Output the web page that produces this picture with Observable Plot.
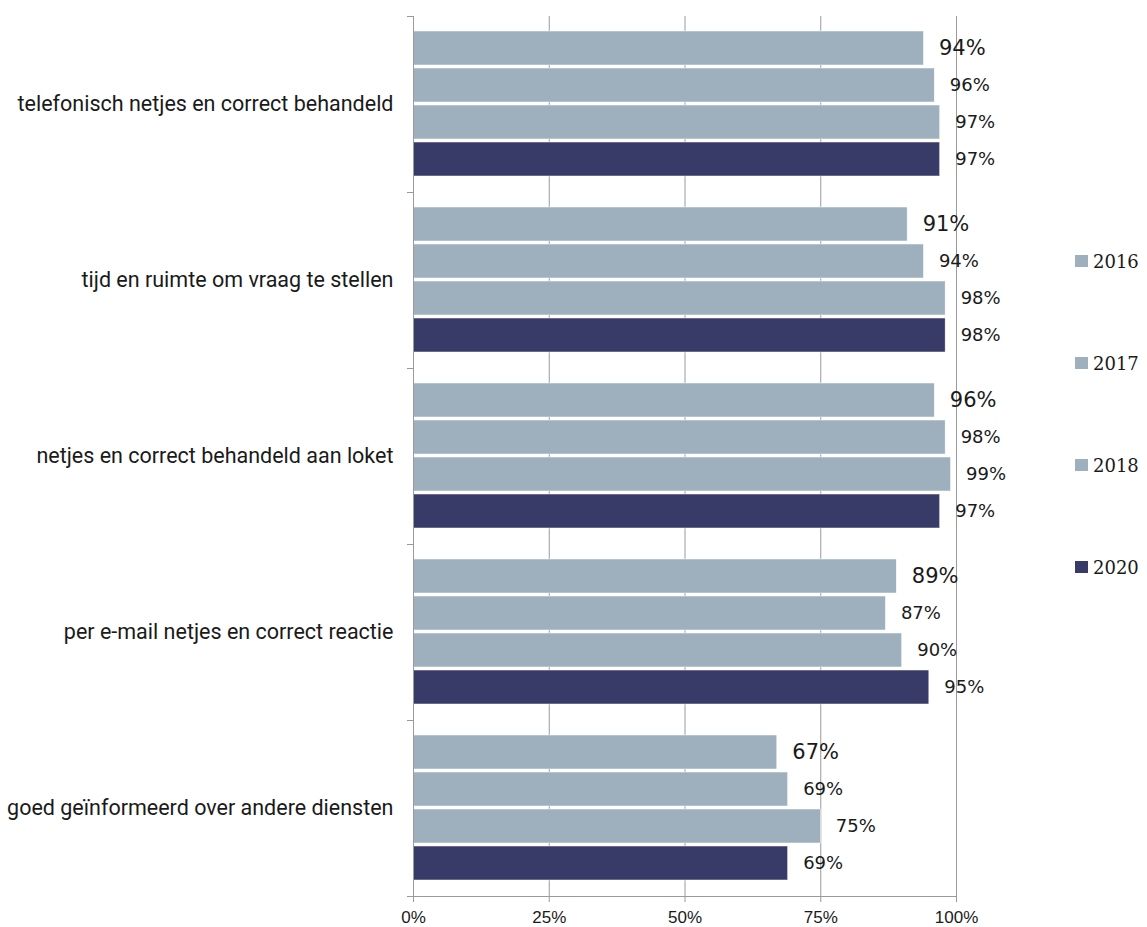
<!DOCTYPE html>
<html><head><meta charset="utf-8">
<script src="https://cdn.jsdelivr.net/npm/d3@7"></script>
<script src="https://cdn.jsdelivr.net/npm/@observablehq/plot@0.6"></script>
<style>
body{margin:0;background:#fff;}
#wrap{position:relative;width:1147px;height:927px;overflow:hidden;}
#legend{position:absolute;left:1075px;top:251px;font-family:"DejaVu Serif";font-size:18px;color:#1a1a1a;}
.item{position:absolute;left:0;display:flex;align-items:center;height:20px;white-space:nowrap;}
.sw{width:13px;height:12px;margin-right:5px;}
</style></head><body>
<div id="wrap"><div id="chart"></div><div id="legend"></div></div>
<script>
const categories = [
  "telefonisch netjes en correct behandeld",
  "tijd en ruimte om vraag te stellen",
  "netjes en correct behandeld aan loket",
  "per e-mail netjes en correct reactie",
  "goed geïnformeerd over andere diensten"
];
const years = ["2016", "2017", "2018", "2020"];
const values2016 = [94, 91, 96, 89, 67];
const values2017 = [96, 94, 98, 87, 69];
const values2018 = [97, 98, 99, 90, 75];
const values2020 = [97, 98, 97, 95, 69];
const yearColors = ["#9EB0BD", "#9EB0BD", "#9EB0BD", "#383A67"];
const xTicks = [0, 25, 50, 75, 100];

const series = [values2016, values2017, values2018, values2020];
const data = [];
categories.forEach((cat, i) => {
  years.forEach((year, j) => data.push({cat, year, value: series[j][i]}));
});

const W = 1147, H = 927, mL = 413, mR = 191, mT = 16, mB = 31;
const plotW = W - mL - mR;
const axisGray = "#9a9a9a";
const labelOpts = {
  fy: "cat", y: "year", x: "value", text: d => d.value + "%",
  dx: 15, textAnchor: "start", fontFamily: "DejaVu Sans", fill: "#1a1a1a"
};

const chart = Plot.plot({
  width: W, height: H,
  marginLeft: mL, marginRight: mR, marginTop: mT, marginBottom: mB,
  style: {fontFamily: "Roboto", fontSize: "17px", color: "#1a1a1a", background: "white"},
  x: {domain: [0, 100], axis: null},
  y: {domain: years, axis: null, paddingInner: 0.08, paddingOuter: 0.37},
  fy: {domain: categories, padding: 0, axis: null},
  color: {domain: years, range: yearColors},
  marks: [
    Plot.gridX(xTicks.slice(1), {stroke: axisGray, strokeOpacity: 1}),
    Plot.barX(data, {fy: "cat", y: "year", x: "value", fill: "year", stroke: "white", strokeWidth: 0.5}),
    Plot.text(data.filter(d => d.year === years[0]), {...labelOpts, fontSize: 21}),
    Plot.text(data.filter(d => d.year !== years[0]), {...labelOpts, fontSize: 18}),
    Plot.frame({anchor: "top", stroke: axisGray, insetLeft: -6, insetRight: plotW}),
    Plot.frame({anchor: "left", facet: "super", stroke: axisGray}),
    Plot.frame({anchor: "bottom", facet: "super", stroke: axisGray, insetLeft: -6}),
    Plot.axisX({anchor: "bottom", ticks: xTicks, tickFormat: d => d + "%", tickSize: 6, tickPadding: 8,
      label: null, stroke: axisGray, fill: "#1a1a1a", fontFamily: "Liberation Sans", fontSize: 17}),
    Plot.axisFy({anchor: "left", tickSize: 0, tickPadding: 20, label: null, fontSize: 21.5, fill: "#1a1a1a"})
  ]
});
document.getElementById("chart").append(chart);

const legend = document.getElementById("legend");
years.forEach((year, i) => {
  const it = document.createElement("div");
  it.className = "item";
  it.style.top = (i * 102) + "px";
  const sw = document.createElement("span");
  sw.className = "sw";
  sw.style.background = yearColors[i];
  const t = document.createElement("span");
  t.textContent = year;
  it.append(sw, t);
  legend.append(it);
});
</script>
</body></html>
